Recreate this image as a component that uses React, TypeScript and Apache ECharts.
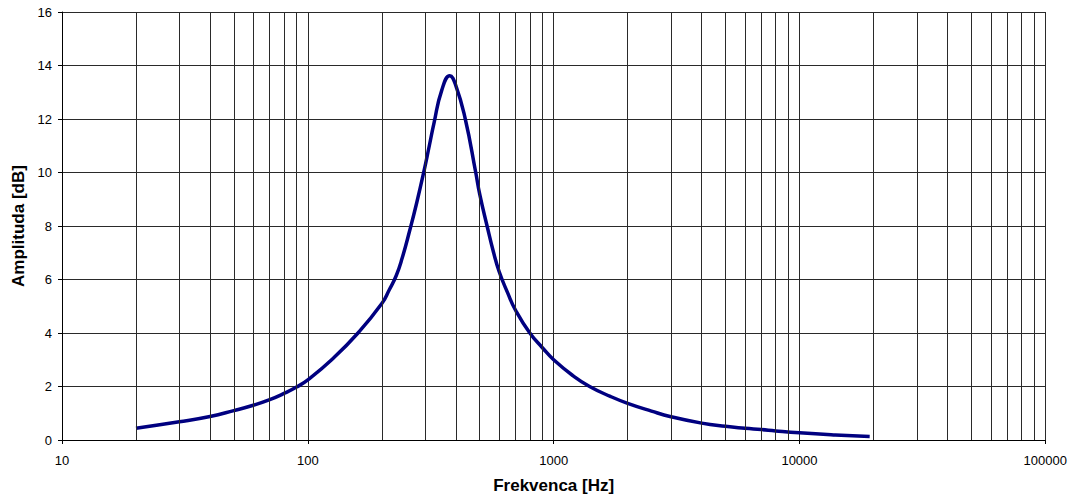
import React, { useEffect, useRef } from "react";
import * as echarts from "echarts";

const frequencies = [20, 30, 40, 50, 60, 70, 80, 90, 100, 125, 160, 200, 214, 229, 242, 260, 277, 296, 312, 326, 350, 378, 400, 437, 482, 500, 536, 570, 600, 650, 700, 800, 900, 1000, 1200, 1400, 1700, 2000, 2500, 3000, 4000, 5000, 6000, 7000, 8000, 10000, 14000, 19300];
const amplitudes = [0.44, 0.68, 0.88, 1.1, 1.3, 1.51, 1.74, 1.98, 2.25, 3.0, 4.0, 5.1, 5.6, 6.15, 6.8, 7.85, 8.85, 10.0, 11.0, 11.85, 13.05, 13.62, 13.25, 12.0, 10.0, 9.2, 8.0, 7.0, 6.3, 5.5, 4.85, 4.0, 3.45, 3.0, 2.4, 2.0, 1.63, 1.37, 1.08, 0.87, 0.63, 0.51, 0.44, 0.39, 0.34, 0.27, 0.19, 0.13];
const minorGridFreqs = [20, 30, 40, 50, 60, 70, 80, 90, 200, 300, 400, 500, 600, 700, 800, 900, 2000, 3000, 4000, 5000, 6000, 7000, 8000, 9000, 20000, 30000, 40000, 50000, 60000, 70000, 80000, 90000];
const xTitle = "Frekvenca [Hz]";
const yTitle = "Amplituda [dB]";

const FONT = "Liberation Sans, Arial, sans-serif";
const GRID_COLOR = "#2a2a2a";

export default function App() {
  const ref = useRef<HTMLDivElement>(null);
  useEffect(() => {
    if (!ref.current) return;
    const chart = echarts.init(ref.current, null, { renderer: "svg" });
    chart.setOption({
      animation: false,
      backgroundColor: "#ffffff",
      grid: { left: 62, top: 12, right: 24, bottom: 58, containLabel: false },
      xAxis: {
        type: "log",
        logBase: 10,
        min: 10,
        max: 100000,
        name: xTitle,
        nameLocation: "middle",
        nameGap: 37,
        nameTextStyle: { fontFamily: FONT, fontSize: 17, fontWeight: "bold", color: "#000" },
        axisLine: { show: true, lineStyle: { color: "#000", width: 1 } },
        axisTick: { show: true, length: 4, lineStyle: { color: "#000" } },
        axisLabel: {
          fontFamily: FONT,
          fontSize: 13,
          color: "#000",
          margin: 14,
          formatter: (v: number) => String(Math.round(v)),
        },
        splitLine: { show: true, lineStyle: { color: GRID_COLOR, width: 1 } },
      },
      yAxis: {
        type: "value",
        min: 0,
        max: 16,
        interval: 2,
        name: yTitle,
        nameLocation: "middle",
        nameGap: 33,
        nameTextStyle: { fontFamily: FONT, fontSize: 17, fontWeight: "bold", color: "#000" },
        axisLine: { show: true, lineStyle: { color: "#000", width: 1 } },
        axisTick: { show: true, length: 4, lineStyle: { color: "#000" } },
        axisLabel: { fontFamily: FONT, fontSize: 13, color: "#000", margin: 10 },
        splitLine: { show: true, lineStyle: { color: GRID_COLOR, width: 1 } },
      },
      series: [
        {
          type: "line",
          data: [],
          z: 1,
          silent: true,
          markLine: {
            silent: true,
            symbol: ["none", "none"],
            label: { show: false },
            lineStyle: { color: GRID_COLOR, width: 1, type: "solid" },
            emphasis: { disabled: true },
            data: minorGridFreqs.map((f) => ({ xAxis: f })),
          },
        },
        {
          type: "line",
          z: 3,
          data: frequencies.map((f, i) => [f, amplitudes[i]]),
          showSymbol: false,
          smooth: 0.5,
          lineStyle: { color: "#000080", width: 3.5 },
          itemStyle: { color: "#000080" },
        },
      ],
    });
    return () => chart.dispose();
  }, []);
  return (
    <div
      ref={ref}
      style={{ position: "fixed", left: 0, top: 0, width: 1070, height: 499, background: "#fff" }}
    />
  );
}
